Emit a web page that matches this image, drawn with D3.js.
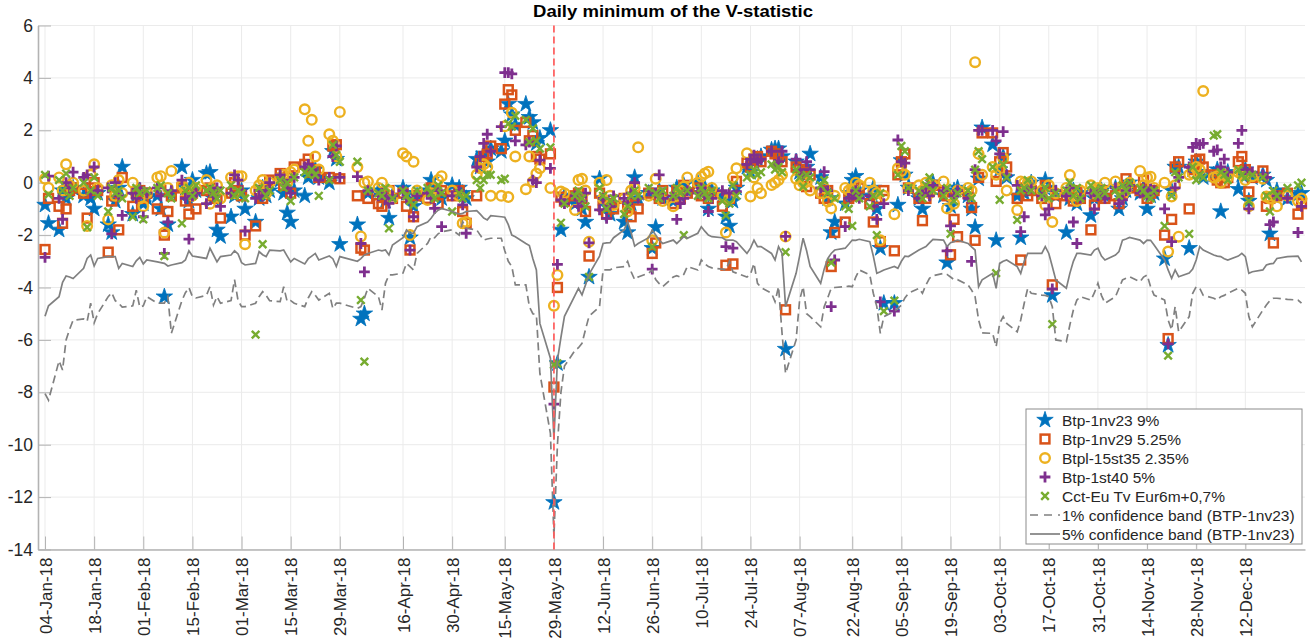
<!DOCTYPE html>
<html>
<head>
<meta charset="utf-8">
<script src="https://cdn.jsdelivr.net/npm/d3@7"></script>
<style>
  body { margin: 0; background: #fff; }
  text { font-family: "Liberation Sans", Arial, Helvetica, sans-serif; }
</style>
</head>
<body>
<div id="chart"></div>
<script>
// ---- data ----
const tickLabels = ['04-Jan-18', '18-Jan-18', '01-Feb-18', '15-Feb-18', '01-Mar-18', '15-Mar-18',
  '29-Mar-18', '16-Apr-18', '30-Apr-18', '15-May-18', '29-May-18', '12-Jun-18', '26-Jun-18',
  '10-Jul-18', '24-Jul-18', '07-Aug-18', '22-Aug-18', '05-Sep-18', '19-Sep-18', '03-Oct-18',
  '17-Oct-18', '31-Oct-18', '14-Nov-18', '28-Nov-18', '12-Dec-18'];
const yTicks = [-14, -12, -10, -8, -6, -4, -2, 0, 2, 4, 6];
const eventDate = '29-May-18';
// market holidays skipped in the trading calendar
const holidays = ['2018-03-30', '2018-04-02', '2018-05-01', '2018-12-25', '2018-12-26'];

// one value per trading day, 04-Jan-18 .. 28-Dec-18 (one line per month)
const btp1nv23 = [
  -0.85,-1.55,-1.8,-0.3,-0.6,-0.1,-0.2,-0.5,-0.3,-0.6,-1.0,-0.4,-1.6,-1.9,-0.7,-0.2,0.6,-1.2,-0.5,-0.3,
  -0.8,-0.6,-0.5,-1.0,-4.35,-1.6,-0.4,0.6,-0.2,-0.7,0.1,-0.3,0.35,0.4,-0.6,-1.8,-2.05,-1.3,-0.5,-0.4,
  -0.3,-1.0,-1.5,-0.6,-0.2,-0.5,-0.3,0.1,-0.4,-1.15,-1.5,-0.3,-0.5,0.2,0.3,0.5,0.2,0.0,1.2,0.9,-2.35,
  -1.6,-5.2,-5.0,-0.4,-0.3,-0.5,-0.7,-1.35,-0.5,-0.2,-0.4,-2.1,-0.9,-0.5,-0.3,0.1,-0.2,-0.5,-0.6,-0.1,
  -0.2,-0.4,-0.6,0.9,0.6,1.1,0.8,1.3,1.2,1.6,3.0,2.6,2.2,3.0,2.5,2.3,1.5,1.7,2.0,-12.2,-6.9,-1.8,
  -0.5,-0.8,-0.6,-1.0,-1.5,-3.6,0.15,-0.6,-0.9,-1.2,-0.8,-1.5,-1.9,-0.8,0.2,-0.6,-0.4,-2.5,-1.7,-0.3,-0.6,
  -0.7,-0.2,-0.5,-0.1,-0.3,0.0,-0.4,-0.2,-1.0,-0.3,-0.5,-1.3,-1.65,-0.7,-0.2,0.6,0.4,0.8,0.9,1.0,1.25,1.3,
  1.3,1.0,-6.35,0.8,0.4,0.3,0.6,1.1,0.2,-0.3,-0.6,-1.9,-1.5,-0.8,-0.4,0.1,0.25,-0.3,-0.5,-0.2,-1.0,-2.5,-4.6,
  -4.6,-0.85,0.85,0.3,-0.2,-0.6,-1.0,-0.4,-0.2,0.0,-0.5,-3.05,-0.9,-0.3,-0.2,-0.5,-1.0,-1.7,0.15,2.1,
  1.45,-2.2,0.5,1.0,0.2,-0.5,-2.1,-0.4,-0.2,0.0,-0.3,0.1,-0.2,-4.3,-0.5,-1.9,-0.6,-0.3,-0.8,-0.4,-1.25,-0.6,-0.4,
  -0.3,-0.5,-0.2,-1.0,-0.6,-0.3,0.0,-0.4,-0.2,-1.0,-0.5,-0.4,-2.9,-6.2,-0.3,0.6,0.6,-2.5,0.5,0.8,0.4,0.2,
  0.3,0.5,-1.1,0.2,0.4,-0.25,0.3,0.5,-0.7,0.2,0.3,0.1,-1.95,-0.5,-0.3,-0.6,-0.45,-0.4
];
const btp1nv29 = [
  -2.55,-0.6,-0.9,-1.55,-1.0,-0.3,-0.2,-0.4,-1.35,-0.2,0.0,-0.3,-2.65,-0.7,-0.5,-1.8,0.2,-0.9,-0.4,-0.3,
  -0.6,-0.4,-1.0,-0.3,-2.0,-1.1,-0.5,-0.2,-0.7,-1.2,-0.4,-1.0,-0.3,-0.2,-0.5,-0.6,-1.35,-0.4,0.0,-0.3,
  -0.5,-2.0,-1.65,-0.3,-0.6,-0.2,0.1,0.35,-0.1,0.2,-0.4,0.6,0.7,0.9,0.4,0.5,0.2,0.2,1.4,1.45,0.15,
  -0.5,-2.5,-2.57,-0.6,-0.8,-0.9,-0.5,-0.3,-0.6,-0.4,-0.9,-2.57,-1.3,-0.5,-0.6,-0.2,-0.4,-0.8,-0.3,-0.5,
  -0.3,-1.1,-1.55,-0.5,0.8,1.0,1.1,1.4,1.3,3.0,3.55,3.35,2.0,2.3,1.6,1.8,1.0,0.9,1.1,-7.8,-4.0,-0.55,
  -0.7,-0.5,-0.4,-0.6,-1.1,-2.8,-0.4,-0.9,-1.2,-0.8,-1.0,-0.6,-0.9,-1.3,-0.5,-1.0,-0.4,-2.7,-2.3,-0.6,-0.3,
  -0.8,-0.3,-0.6,-0.1,-0.4,-0.2,-0.5,-0.3,-0.6,-0.4,-0.9,-3.15,-0.6,-3.1,0.05,0.75,0.6,0.9,1.0,0.8,1.2,1.1,
  1.0,0.8,-4.85,0.6,0.5,0.4,-0.15,0.3,-0.4,-0.6,-0.3,-3.2,-1.9,-1.5,-0.6,-0.3,-0.5,-0.2,-0.8,-1.5,-0.6,-2.25,-0.3,
  -2.6,0.3,0.8,1.1,-0.2,-0.6,-1.45,-0.6,-0.3,-0.1,-0.35,-0.5,-2.75,-1.4,-2.06,-0.4,-0.95,-2.2,0.2,1.9,
  1.9,0.05,0.8,1.15,0.6,-0.6,-2.95,-0.2,-0.5,-0.3,-0.6,-0.1,-0.4,-3.9,-0.8,-0.5,-0.4,-0.7,-0.3,-0.6,-1.8,-0.85,-0.5,
  -0.3,-0.6,-0.5,-0.8,-0.4,0.15,-0.2,-0.3,0.1,-0.6,-0.4,-0.3,-2.0,-5.95,-1.4,0.6,0.8,-1.0,0.5,0.85,0.9,0.6,
  0.3,0.1,0.0,0.0,0.2,0.8,1.0,0.5,-0.35,0.2,0.45,-0.9,-0.6,-2.3,-0.5,-0.4,-1.2,-0.8
];
const btpl15st35 = [
  0.15,-0.2,0.2,-0.3,0.7,-0.1,0.0,-0.3,-1.65,0.3,0.7,-0.2,-1.4,-0.1,-0.5,0.1,-0.4,0.0,-0.3,-0.6,
  -0.9,-0.4,0.2,0.25,-1.9,-0.2,0.45,-0.1,-0.3,0.0,-0.5,-0.2,0.1,-0.8,-0.3,-0.1,-0.6,0.2,-0.4,0.25,
  0.25,-2.35,-0.3,-0.1,0.1,-0.4,0.0,0.2,0.3,0.0,0.4,0.5,2.8,1.6,2.4,1.0,0.5,1.85,1.6,1.0,2.7,
  0.6,-2.05,0.0,0.05,-0.2,0.0,-0.4,-0.3,-0.6,1.12,1.0,-2.0,0.8,-0.3,-0.66,-0.4,-0.2,0.1,0.25,-0.3,
  -0.5,-1.55,-1.5,0.3,0.55,0.7,0.6,-0.5,-0.5,2.15,-0.55,2.67,1.0,-0.25,1.0,0.04,0.35,0.55,-0.2,-4.7,-3.52,-0.34,
  -0.4,-1.04,0.1,0.15,-0.3,-2.25,0.0,-0.6,0.1,-0.5,-0.85,-0.6,-1.1,-0.3,-0.2,1.35,-0.5,-2.2,0.15,-0.4,-0.7,
  -0.9,-0.5,-0.3,-0.15,0.2,0.0,0.23,0.35,0.42,-0.2,-0.5,-1.9,-0.6,0.2,0.55,1.12,-0.53,0.2,-0.2,-0.4,-0.09,0.0,
  0.1,0.3,-2.05,0.15,-0.1,0.0,0.05,-0.3,-0.4,-0.2,-0.72,-0.98,-0.5,-0.2,-0.3,-0.25,0.0,-0.1,0.0,-0.3,-0.4,-2.2,-0.5,
  -1.2,0.55,0.45,0.3,-0.2,-0.1,-0.3,0.0,-0.4,-0.1,0.05,-0.98,-0.5,-0.8,-0.3,-0.2,-0.3,4.6,1.1,0.3,
  0.6,0.3,0.5,0.93,-0.3,-1.04,0.05,0.0,0.0,0.05,-0.3,-0.85,-0.1,-1.5,-0.4,-0.2,0.29,-0.5,-0.7,-0.3,-0.1,-0.4,-0.2,
  -0.3,0.0,0.05,-0.2,-0.5,-0.3,0.0,0.45,-0.1,0.2,0.23,-0.2,0.0,-2.63,-0.53,-0.1,-2.06,0.3,0.36,0.6,0.5,3.5,
  0.2,0.25,0.0,0.3,0.2,0.4,0.3,0.1,-0.9,0.25,0.15,-0.53,-0.6,-0.5,-0.9,-0.5,-0.7,-0.6
];
const btp1st40 = [
  -2.85,0.25,-0.6,-1.4,0.0,-0.2,0.4,0.2,0.3,-0.4,0.6,-0.3,-0.2,-1.95,0.0,-0.5,-1.25,-0.4,-0.6,-0.2,
  -1.3,-0.4,-0.2,-0.5,-2.7,-1.5,-0.3,0.1,-0.6,-2.15,-0.5,-0.4,-0.8,-0.3,-0.5,-0.2,-0.9,-0.4,0.3,0.1,
  -0.3,-1.85,-0.6,-0.3,-0.5,-0.3,0.0,0.3,0.1,-0.2,-0.4,0.2,0.6,0.7,0.5,0.3,0.1,0.2,1.0,1.4,0.2,
  0.23,-2.32,-3.4,-0.3,-0.5,-0.4,-0.6,-0.79,-0.5,-0.3,-0.6,-2.57,-1.3,-0.5,-0.4,-0.6,-0.98,-0.3,-1.68,-0.5,
  -0.3,-0.85,-1.93,0.6,1.0,1.5,1.85,1.2,2.14,4.2,4.2,4.15,1.6,1.44,1.55,0.1,0.0,0.86,0.55,-8.45,-3.12,-0.66,
  -0.8,-0.5,-0.9,-0.7,-0.4,-2.3,-1.04,-0.6,-1.36,-0.9,-0.5,-0.6,-0.8,-0.4,0.0,-0.6,-0.3,-3.3,-0.4,0.3,-0.6,
  -0.5,-1.4,-0.8,-0.6,-0.3,-0.4,-0.2,-0.5,-1.1,-0.6,-0.3,-2.44,-0.4,-2.5,-0.34,0.7,0.9,1.05,0.8,0.9,1.2,0.7,
  0.8,1.2,-2.05,0.9,0.5,0.3,0.8,0.5,-0.2,0.42,-0.3,-4.73,-2.95,-1.68,-0.6,-0.47,-0.3,-0.6,-0.5,-0.9,-1.4,-4.55,-0.8,
  -4.9,1.63,0.8,0.75,-0.3,-0.6,-0.4,-0.2,-0.5,-0.1,-0.3,-2.6,-1.65,-0.5,-0.3,-0.6,-3.0,0.5,2.0,2.0,
  2.0,1.6,1.1,1.95,0.3,-0.1,-1.87,-1.3,-0.3,-0.2,-0.5,-1.23,-1.0,-4.05,-0.3,-0.5,-0.2,-1.5,-2.32,-0.6,-0.4,-1.0,-0.5,
  -0.3,-0.6,-0.2,-0.8,-0.65,-0.3,-0.1,-0.4,-0.2,-0.5,-0.25,-0.3,-1.0,-6.15,-2.25,-0.2,0.2,0.6,1.35,1.5,1.45,1.5,
  1.2,1.25,0.6,0.9,0.4,1.5,2.0,0.5,-1.0,0.4,0.3,0.2,-1.6,-1.5,-0.5,-0.6,-1.9,-0.9
];
const cctEu = [
  0.3,-0.45,0.1,-0.3,0.35,-0.5,-0.2,0.0,-1.7,-0.3,0.2,-0.5,-1.1,-0.2,-0.4,-0.3,-0.6,-1.3,-0.2,-0.4,
  -1.4,-0.3,-0.2,-0.1,-2.8,-0.4,-0.6,-1.55,-0.3,-0.2,-0.5,-0.1,-0.3,-0.2,-0.4,-0.6,-0.3,-0.1,-0.5,-0.3,
  -0.4,-0.6,-5.8,-0.2,-2.35,-0.5,-0.3,0.1,-0.2,0.0,-0.7,0.2,0.4,0.3,0.5,0.3,-0.5,0.1,1.44,1.06,0.8,
  0.8,-4.48,-6.83,-0.3,-0.4,-0.5,-0.2,-1.74,-0.6,-0.3,-0.5,-0.7,-0.85,-0.3,-0.2,-0.4,-0.6,-0.1,-0.4,-1.1,
  -0.4,-0.6,-0.5,0.1,-0.2,0.1,0.3,0.3,0.1,0.15,2.25,2.14,2.55,2.4,1.55,2.07,1.6,1.3,1.35,-6.95,-6.9,-1.53,
  -0.8,-0.5,-0.3,-0.6,-0.9,-3.6,-0.2,-0.5,-1.0,-0.7,-0.6,-1.2,-0.9,-0.5,-0.3,-0.5,-0.2,-2.45,-0.4,-0.6,-0.3,
  -0.5,-0.2,-0.4,-2.0,-0.3,-0.5,-0.2,-0.4,-0.6,-0.3,-0.7,-1.25,-0.8,-0.1,-0.5,0.2,0.3,0.5,0.3,0.4,0.7,0.5,
  0.6,0.4,-2.65,0.5,0.2,-0.15,0.3,0.2,-0.1,0.1,-0.4,-3.05,-0.6,-0.9,-1.0,-1.65,-0.3,-0.6,-0.9,-0.5,-2.0,-0.4,-4.9,
  -4.5,0.3,1.4,1.2,-0.2,-0.3,-0.6,-0.1,0.2,-0.3,-0.5,-0.2,-1.95,-0.7,-0.4,-0.3,-0.6,0.5,1.2,0.9,
  0.6,-3.45,-0.65,0.7,0.2,-1.42,-0.3,-0.2,0.1,-0.3,-0.5,-0.2,-0.6,-5.4,-0.4,-0.3,0.0,-0.5,-0.2,-0.6,-0.1,-0.3,-0.5,
  -0.2,-0.4,-0.3,-0.5,-0.1,-0.3,0.0,-0.2,-0.3,-0.5,-0.6,-0.3,-1.65,-6.6,-0.5,0.4,0.2,-1.95,0.6,0.1,0.3,0.2,
  1.8,1.85,0.4,0.3,0.1,0.5,0.3,0.2,-0.7,0.3,0.2,-0.5,-1.1,-0.3,-0.5,-0.2,-0.1,0.0
];
// confidence bands (BTP-1nv23)
const band1 = [
  -8.05,-8.3,-6.8,-7.15,-6.0,-5.6,-5.25,-5.2,-5.3,-4.6,-5.35,-5.0,-4.35,-4.2,-4.5,-4.6,-4.75,-4.7,-4.1,-4.75,
  -4.7,-4.35,-4.6,-4.6,-4.6,-4.35,-5.75,-4.5,-4.2,-4.0,-4.35,-4.4,-4.3,-3.97,-4.67,-4.35,-4.6,-4.5,-3.7,-4.5,
  -4.73,-4.73,-4.6,-4.35,-4.16,-4.3,-4.5,-4.54,-3.97,-4.54,-4.5,-4.6,-4.73,-4.4,-4.16,-4.3,-4.48,-4.22,-4.8,-4.6,-4.6,
  -4.8,-4.73,-4.4,-4.03,-4.35,-4.86,-3.84,-3.52,-3.52,-3.45,-3.08,-3.2,-3.33,-2.7,-2.32,-2.06,-2.1,-1.95,-1.87,-1.8,
  -2.0,-1.49,-1.74,-1.8,-2.0,-2.19,-2.15,-2.12,-2.12,-2.6,-3.0,-3.2,-3.9,-3.9,-4.73,-5.0,-5.05,-7.28,-9.57,-13.5,-10.0,-8.0,
  -7.0,-6.4,-6.3,-6.13,-5.6,-5.1,-4.73,-3.33,-3.33,-3.33,-3.25,-3.2,-3.0,-3.4,-3.7,-3.6,-3.45,-3.33,-3.7,-3.85,-3.97,
  -3.6,-3.55,-3.6,-3.5,-3.2,-3.33,-2.95,-3.1,-3.2,-3.25,-3.3,-3.33,-3.0,-3.4,-3.45,-3.6,-3.5,-3.08,-3.84,-4.0,-4.22,-4.54,
  -3.97,-5.75,-7.28,-6.0,-4.48,-3.97,-5.0,-5.11,-5.5,-4.73,-4.4,-4.03,-4.0,-3.97,-3.95,-3.97,-3.6,-3.33,-3.52,-4.22,-4.73,-5.75,-5.11,
  -4.92,-4.8,-4.67,-4.4,-4.22,-4.03,-4.22,-3.9,-3.65,-3.55,-3.46,-3.5,-3.6,-3.7,-3.7,-3.9,-4.1,-4.35,-5.24,-5.73,
  -5.75,-6.26,-5.37,-5.11,-5.37,-5.69,-5.24,-4.6,-4.03,-4.22,-4.29,-4.3,-4.35,-4.73,-6.0,-6.07,-5.43,-4.86,-4.48,-4.35,-4.48,-4.2,-3.84,
  -4.3,-4.6,-4.35,-4.03,-3.71,-3.65,-3.59,-3.78,-3.6,-3.52,-3.97,-4.29,-4.48,-5.24,-5.62,-4.73,-5.69,-5.11,-4.22,-3.97,-4.03,-4.3,
  -4.41,-4.48,-4.35,-4.3,-4.22,-4.03,-4.1,-4.22,-5.11,-5.5,-4.86,-4.67,-4.5,-4.41,-4.41,-4.45,-4.48,-4.6
];
const band5 = [
  -5.1,-4.7,-4.35,-3.8,-3.56,-3.6,-3.66,-3.27,-2.89,-2.76,-3.18,-2.89,-2.82,-2.82,-2.82,-3.27,-3.08,-3.2,-2.98,-2.85,
  -3.1,-2.95,-3.02,-3.05,-3.08,-3.18,-3.14,-3.05,-2.95,-2.6,-2.8,-2.82,-2.89,-2.5,-2.76,-3.02,-2.82,-2.76,-2.6,-2.72,
  -3.05,-3.14,-3.08,-2.63,-2.75,-2.82,-2.57,-2.6,-2.57,-2.8,-3.02,-2.89,-3.1,-2.9,-2.8,-2.7,-2.95,-2.8,-2.9,-3.2,-2.82,
  -3.0,-2.9,-2.76,-2.7,-2.57,-2.6,-2.57,-2.76,-2.38,-2.1,-1.8,-1.93,-1.93,-1.68,-1.5,-1.36,-1.17,-1.05,-0.98,-1.1,
  -1.2,-1.17,-1.1,-1.07,-1.2,-1.35,-1.42,-1.26,-1.3,-1.32,-1.6,-2.0,-2.06,-2.32,-2.4,-2.9,-3.33,-5.37,-6.7,-9.8,-6.77,-5.9,
  -5.1,-4.3,-4.03,-4.28,-3.9,-3.5,-2.8,-2.32,-2.3,-2.29,-2.1,-1.8,-1.49,-1.9,-2.42,-2.32,-2.1,-1.81,-2.0,-2.2,-2.32,
  -2.19,-2.32,-2.19,-2.06,-2.12,-1.93,-1.68,-1.85,-2.0,-2.06,-2.1,-2.19,-2.19,-2.19,-2.25,-2.7,-2.5,-2.19,-2.44,-2.44,-2.7,-2.95,
  -2.44,-2.7,-4.73,-3.46,-2.8,-2.12,-2.6,-3.2,-3.84,-3.3,-2.9,-2.7,-2.57,-2.5,-2.35,-2.19,-2.2,-2.16,-2.25,-2.8,-3.46,-3.4,-3.33,
  -3.2,-3.27,-3.0,-2.8,-2.82,-2.57,-2.5,-2.44,-2.3,-2.16,-2.19,-2.44,-2.29,-2.25,-2.19,-2.32,-2.45,-2.57,-3.97,-3.71,
  -3.46,-4.03,-3.08,-3.0,-2.95,-3.2,-3.46,-3.0,-2.7,-2.7,-2.7,-2.44,-2.7,-3.2,-3.71,-4.03,-3.46,-3.0,-2.7,-2.7,-2.76,-2.57,-2.5,
  -2.8,-2.95,-2.76,-2.63,-2.19,-2.15,-2.09,-2.19,-2.32,-2.19,-2.2,-2.38,-2.95,-3.33,-3.65,-3.33,-3.59,-3.45,-3.3,-2.95,-2.44,-2.57,
  -2.76,-2.8,-2.82,-2.9,-2.95,-2.8,-2.7,-2.82,-3.46,-3.4,-3.33,-3.14,-3.1,-3.08,-2.89,-2.82,-2.8,-3.02
];

// ---- chart ----
const chartWidth = 1315;
const chartHeight = 639;
const plotLeft = 38, plotRight = 1305, plotTop = 25.5, plotBottom = 549.5;
const textColor = '#262626';
const axisColor = '#b3b3b3';

const fmtIso = d3.timeFormat('%Y-%m-%d');
const parseTick = d3.timeParse('%d-%b-%y');
const fmtTick = d3.timeFormat('%d-%b-%y');

// trading days between first and last observation
const days = d3.timeDay.range(new Date(2018, 0, 4), new Date(2018, 11, 29))
  .filter(d => d.getDay() !== 0 && d.getDay() !== 6 && !holidays.includes(fmtIso(d)));

const x = d3.scaleTime()
  .domain([new Date(2018, 0, 2), new Date(2018, 11, 29)])
  .range([plotLeft, plotRight]);
const y = d3.scaleLinear().domain([-14, 6]).range([plotBottom, plotTop]);

const svg = d3.select('#chart')
  .append('svg')
  .attr('width', chartWidth)
  .attr('height', chartHeight)
  .style('display', 'block');

const tickDates = tickLabels.map(parseTick);

// grid
svg.append('g')
  .selectAll('line')
  .data(yTicks)
  .join('line')
  .attr('x1', plotLeft).attr('x2', plotRight)
  .attr('y1', d => y(d)).attr('y2', d => y(d))
  .attr('stroke', '#ebebeb').attr('stroke-width', 1);

svg.append('g')
  .selectAll('line')
  .data(tickDates)
  .join('line')
  .attr('x1', d => x(d)).attr('x2', d => x(d))
  .attr('y1', plotTop).attr('y2', plotBottom)
  .attr('stroke', '#ebebeb').attr('stroke-width', 1);

// axes
const yAxis = svg.append('g')
  .attr('transform', 'translate(' + plotLeft + ',0)')
  .call(d3.axisLeft(y).tickValues(yTicks).tickSizeInner(-13).tickSizeOuter(0).tickPadding(5));
yAxis.select('.domain').attr('stroke', axisColor).attr('stroke-width', 1.6);
yAxis.selectAll('.tick line').attr('stroke', axisColor);
yAxis.selectAll('.tick text')
  .attr('fill', textColor)
  .style('font-size', '17.5px')
  .style('font-family', '"Liberation Sans", Arial, sans-serif')
  .text(d => d < 0 ? '-' + Math.abs(d) : d);

const xAxis = svg.append('g')
  .attr('transform', 'translate(0,' + plotBottom + ')')
  .call(d3.axisBottom(x).tickValues(tickDates).tickSizeInner(-13).tickSizeOuter(0).tickFormat(fmtTick));
xAxis.select('.domain').attr('stroke', axisColor).attr('stroke-width', 1.6);
xAxis.selectAll('.tick line').attr('stroke', axisColor);
xAxis.selectAll('.tick text')
  .attr('fill', textColor)
  .style('font-size', '17px')
  .style('font-family', '"Liberation Sans", Arial, sans-serif')
  .attr('text-anchor', 'end')
  .attr('transform', 'rotate(-90)')
  .attr('x', -8)
  .attr('y', 0)
  .attr('dy', '0.36em');

// markers
const plot = svg.append('g');

const starPath = d3.symbol().type(d3.symbolStar).size(84)();
const series = [
  { name: 'Btp-1nv23 9%', values: btp1nv23, color: '#0072BD', shape: 'star' },
  { name: 'Btp-1nv29 5.25%', values: btp1nv29, color: '#D95319', shape: 'square' },
  { name: 'Btpl-15st35 2.35%', values: btpl15st35, color: '#EDB120', shape: 'circle' },
  { name: 'Btp-1st40 5%', values: btp1st40, color: '#7E2F8E', shape: 'plus' },
  { name: 'Cct-Eu Tv Eur6m+0,7%', values: cctEu, color: '#77AC30', shape: 'cross' }
];

function drawMarker(g, shape, color) {
  if (shape === 'star') {
    g.append('path').attr('d', starPath).attr('fill', color).attr('stroke', color).attr('stroke-width', 0.8);
  } else if (shape === 'square') {
    g.append('rect').attr('x', -4.4).attr('y', -4.4).attr('width', 8.8).attr('height', 8.8)
      .attr('fill', 'none').attr('stroke', color).attr('stroke-width', 2.5);
  } else if (shape === 'circle') {
    g.append('circle').attr('r', 4.8).attr('fill', 'none').attr('stroke', color).attr('stroke-width', 2.4);
  } else if (shape === 'plus') {
    g.append('path').attr('d', 'M-5.4,0H5.4M0,-5.4V5.4').attr('stroke', color).attr('stroke-width', 2.8);
  } else {
    g.append('path').attr('d', 'M-3.8,-3.8L3.8,3.8M-3.8,3.8L3.8,-3.8').attr('stroke', color).attr('stroke-width', 2.4);
  }
}

series.forEach(s => {
  const pts = days.map((d, i) => ({ date: d, value: s.values[i] })).filter(p => p.value !== undefined);
  plot.append('g')
    .selectAll('g')
    .data(pts)
    .join('g')
    .attr('transform', p => 'translate(' + x(p.date) + ',' + y(p.value) + ')')
    .each(function () { drawMarker(d3.select(this), s.shape, s.color); });
});

// confidence bands
const line = d3.line().x(p => x(p.date)).y(p => y(p.value));
const bandPts = arr => days.map((d, i) => ({ date: d, value: arr[i] })).filter(p => p.value !== undefined);

plot.append('path')
  .attr('d', line(bandPts(band1)))
  .attr('fill', 'none').attr('stroke', '#808080').attr('stroke-width', 1.7)
  .attr('stroke-dasharray', '8,4.5');
plot.append('path')
  .attr('d', line(bandPts(band5)))
  .attr('fill', 'none').attr('stroke', '#808080').attr('stroke-width', 1.7);

// event line
const ev = parseTick(eventDate);
svg.append('line')
  .attr('x1', x(ev)).attr('x2', x(ev))
  .attr('y1', plotTop).attr('y2', plotBottom)
  .attr('stroke', '#ff5c5c').attr('stroke-width', 1.7)
  .attr('stroke-dasharray', '7,4');

// title
svg.append('text')
  .text('Daily minimum of the V-statistic')
  .attr('x', 673)
  .attr('y', 17)
  .attr('text-anchor', 'middle')
  .attr('textLength', 280)
  .attr('lengthAdjust', 'spacingAndGlyphs')
  .style('font-size', '17px')
  .style('font-weight', 'bold')
  .attr('fill', '#000');

// legend
const legend = svg.append('g');
legend.append('rect')
  .attr('x', 1026).attr('y', 409).attr('width', 276).attr('height', 135)
  .attr('fill', '#fff').attr('stroke', '#8c8c8c').attr('stroke-width', 1);

const legendItems = series.map(s => ({ name: s.name, shape: s.shape, color: s.color }))
  .concat([
    { name: '1% confidence band (BTP-1nv23)', shape: 'dash', color: '#808080' },
    { name: '5% confidence band (BTP-1nv23)', shape: 'solid', color: '#808080' }
  ]);

legendItems.forEach((item, i) => {
  const ly = 420 + i * 19;
  const g = legend.append('g');
  if (item.shape === 'dash' || item.shape === 'solid') {
    g.append('line')
      .attr('x1', 1030).attr('x2', 1060).attr('y1', ly).attr('y2', ly)
      .attr('stroke', item.color).attr('stroke-width', 1.7)
      .attr('stroke-dasharray', item.shape === 'dash' ? '8,6' : null);
  } else {
    const m = g.append('g').attr('transform', 'translate(1045,' + ly + ')');
    drawMarker(m, item.shape, item.color);
  }
  g.append('text')
    .text(item.name)
    .attr('x', 1062)
    .attr('y', ly)
    .attr('dy', '0.36em')
    .attr('fill', textColor)
    .style('font-size', '15.5px');
});
</script>
</body>
</html>
